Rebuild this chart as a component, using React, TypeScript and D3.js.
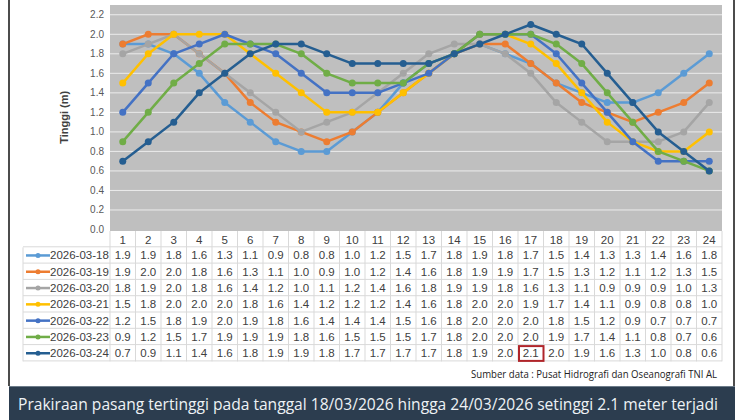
import React from 'react';
import * as d3 from 'd3';

// hourly tide forecast (m), one row per day
const hours = d3.range(1, 25).map(String);
const dates = ['2026-03-18', '2026-03-19', '2026-03-20', '2026-03-21', '2026-03-22', '2026-03-23', '2026-03-24'];
const d0318 = [1.9, 1.9, 1.8, 1.6, 1.3, 1.1, 0.9, 0.8, 0.8, 1.0, 1.2, 1.5, 1.7, 1.8, 1.9, 1.8, 1.7, 1.5, 1.4, 1.3, 1.3, 1.4, 1.6, 1.8];
const d0319 = [1.9, 2.0, 2.0, 1.8, 1.6, 1.3, 1.1, 1.0, 0.9, 1.0, 1.2, 1.4, 1.6, 1.8, 1.9, 1.9, 1.7, 1.5, 1.3, 1.2, 1.1, 1.2, 1.3, 1.5];
const d0320 = [1.8, 1.9, 2.0, 1.8, 1.6, 1.4, 1.2, 1.0, 1.1, 1.2, 1.4, 1.6, 1.8, 1.9, 1.9, 1.8, 1.6, 1.3, 1.1, 0.9, 0.9, 0.9, 1.0, 1.3];
const d0321 = [1.5, 1.8, 2.0, 2.0, 2.0, 1.8, 1.6, 1.4, 1.2, 1.2, 1.2, 1.4, 1.6, 1.8, 2.0, 2.0, 1.9, 1.7, 1.4, 1.1, 0.9, 0.8, 0.8, 1.0];
const d0322 = [1.2, 1.5, 1.8, 1.9, 2.0, 1.9, 1.8, 1.6, 1.4, 1.4, 1.4, 1.5, 1.6, 1.8, 2.0, 2.0, 2.0, 1.8, 1.5, 1.2, 0.9, 0.7, 0.7, 0.7];
const d0323 = [0.9, 1.2, 1.5, 1.7, 1.9, 1.9, 1.9, 1.8, 1.6, 1.5, 1.5, 1.5, 1.7, 1.8, 2.0, 2.0, 2.0, 1.9, 1.7, 1.4, 1.1, 0.8, 0.7, 0.6];
const d0324 = [0.7, 0.9, 1.1, 1.4, 1.6, 1.8, 1.9, 1.9, 1.8, 1.7, 1.7, 1.7, 1.7, 1.8, 1.9, 2.0, 2.1, 2.0, 1.9, 1.6, 1.3, 1.0, 0.8, 0.6];
const yTicks = [0, 0.2, 0.4, 0.6, 0.8, 1.0, 1.2, 1.4, 1.6, 1.8, 2.0, 2.2];
const colors = ['#5b9bd5', '#ed7d31', '#a5a5a5', '#ffc000', '#4472c4', '#70ad47', '#255e91'];

const series = [d0318, d0319, d0320, d0321, d0322, d0323, d0324];

const W = 750;
const H = 420;
const plot = { left: 110, right: 722, top: 5, bottom: 229.5 };
const rowH = 16.3;
const headerTop = 231;
const legendLeft = 23;
const font = "'Liberation Sans', Arial, sans-serif";

export default function App() {
  const x = d3.scaleBand().domain(hours).range([plot.left, plot.right]);
  const y = d3.scaleLinear().domain([0, 2.3]).range([plot.bottom, plot.top]);
  const line = d3
    .line<number>()
    .x((_, i) => x(hours[i])! + x.bandwidth() / 2)
    .y((d) => y(d));

  const rowY = (r: number) => headerTop + rowH * (r + 1);
  const tableBottom = rowY(dates.length);

  // the peak value gets a red box in the table
  const peak = d3.max(series.flat())!;
  const peakRow = series.findIndex((s) => s.includes(peak));
  const peakCol = series[peakRow].indexOf(peak);

  return (
    <svg width={W} height={H} style={{ position: 'absolute', left: 0, top: 0 }}>
      <rect width={W} height={H} fill="#fff" />
      <line x1={9} x2={9} y1={0} y2={386} stroke="#111" strokeWidth={1.5} />
      <line x1={734} x2={734} y1={0} y2={386} stroke="#111" strokeWidth={1.5} />

      {/* plot area */}
      <rect x={plot.left} y={plot.top} width={plot.right - plot.left} height={headerTop - plot.top} fill="#bfbfbf" />
      {yTicks.map((t) => (
        <g key={t}>
          {t > 0 && (
            <line x1={plot.left} x2={plot.right} y1={y(t)} y2={y(t)} stroke="#ececec" strokeWidth={1} />
          )}
          <text x={104} y={y(t)} dy="0.35em" textAnchor="end" fontSize={10} fill="#595959" fontFamily={font}>
            {t.toFixed(1)}
          </text>
        </g>
      ))}
      <text
        transform={`translate(68,${(plot.top + plot.bottom) / 2}) rotate(-90)`}
        textAnchor="middle"
        fontSize={11}
        fontWeight="bold"
        fill="#404040"
        fontFamily={font}
      >
        Tinggi (m)
      </text>

      {series.map((s, k) => (
        <g key={dates[k]}>
          <path d={line(s)!} fill="none" stroke={colors[k]} strokeWidth={2.5} strokeLinejoin="round" />
          {s.map((v, i) => (
            <circle key={i} cx={x(hours[i])! + x.bandwidth() / 2} cy={y(v)} r={3.5} fill={colors[k]} />
          ))}
        </g>
      ))}

      {/* data table */}
      <rect x={plot.left} y={headerTop} width={plot.right - plot.left} height={tableBottom - headerTop} fill="#fff" />
      {hours.map((h) => (
        <text
          key={h}
          x={x(h)! + x.bandwidth() / 2}
          y={headerTop + rowH / 2 + 0.5}
          dy="0.35em"
          textAnchor="middle"
          fontSize={11.5}
          fill="#404040"
          fontFamily={font}
        >
          {h}
        </text>
      ))}
      {d3.range(dates.length + 1).map((r) => (
        <line key={r} x1={legendLeft} x2={plot.right} y1={rowY(r) - 0.5} y2={rowY(r) - 0.5} stroke="#d9d9d9" />
      ))}
      {[legendLeft, ...hours.map((h) => x(h)!), plot.right].map((vx, i) => (
        <line
          key={i}
          x1={vx}
          x2={vx}
          y1={vx === legendLeft ? rowY(0) : headerTop}
          y2={tableBottom}
          stroke="#d9d9d9"
        />
      ))}
      {dates.map((dt, r) => {
        const cy = rowY(r) + rowH / 2;
        return (
          <g key={dt}>
            <line x1={26} x2={50} y1={cy} y2={cy} stroke={colors[r]} strokeWidth={2.5} />
            <circle cx={38} cy={cy} r={2.5} fill={colors[r]} />
            <text x={50} y={cy} dy="0.35em" fontSize={11.5} fill="#404040" fontFamily={font}>
              {dt}
            </text>
            {series[r].map((v, i) => (
              <text
                key={i}
                x={x(hours[i])! + x.bandwidth() / 2}
                y={cy}
                dy="0.35em"
                textAnchor="middle"
                fontSize={11.5}
                fill="#404040"
                fontFamily={font}
              >
                {v.toFixed(1)}
              </text>
            ))}
          </g>
        );
      })}
      <rect
        x={x(hours[peakCol])! + 1}
        y={rowY(peakRow) + 1}
        width={x.bandwidth() - 1}
        height={rowH - 1.5}
        fill="none"
        stroke="#b0252a"
        strokeWidth={2}
      />

      <text
        x={717}
        y={374}
        dy="0.35em"
        textAnchor="end"
        fontSize={10}
        fill="#222"
        fontFamily="'Open Sans', sans-serif"
        textLength={246}
        lengthAdjust="spacingAndGlyphs"
      >
        Sumber data : Pusat Hidrografi dan Oseanografi TNI AL
      </text>

      {/* caption band */}
      <rect x={9} y={386} width={726} height={34} fill="#2c3d4f" />
      <line x1={9} x2={735} y1={386.5} y2={386.5} stroke="#6d7c8a" />
      <text
        x={18}
        y={404}
        dy="0.35em"
        fontSize={16}
        fill="#eef2f5"
        fontFamily="'Open Sans', sans-serif"
        textLength={700}
        lengthAdjust="spacingAndGlyphs"
      >
        Prakiraan pasang tertinggi  pada tanggal 18/03/2026 hingga 24/03/2026 setinggi 2.1 meter terjadi
      </text>
    </svg>
  );
}
